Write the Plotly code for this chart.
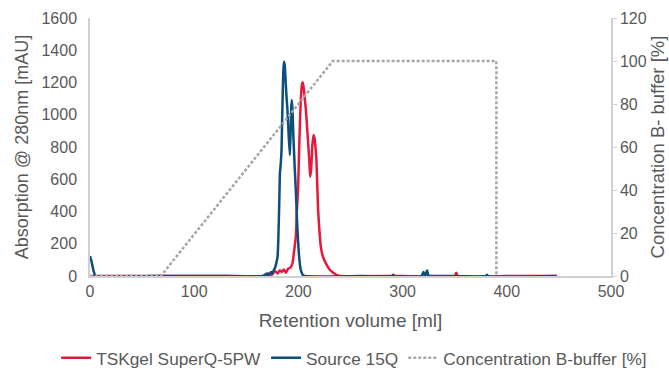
import plotly.graph_objects as go

# Chromatogram: absorption at 280 nm for two anion-exchange columns,
# plus the B-buffer gradient on a secondary axis.

tsk_ml = [0, 60, 120, 168, 170, 172, 174, 176, 178, 180, 182, 184, 186, 188, 190, 192,
          194.3, 195.8, 197.5, 198.5, 199.1, 199.8, 200.7, 201.5, 202.3, 203.1, 203.9, 204.8,
          206, 207.2, 208.8, 210.4, 211.3, 212.2, 213.4, 214.5, 215.6, 216.5, 217.3, 218.9,
          220.2, 221.5, 223.5, 226.3, 230, 233.8, 237, 240, 300, 350, 351.5,
          353, 400, 448]
tsk_mau = [0, 0, 0, 0, 5, 15, 5, 20, 30, 15, 35, 25, 40, 20, 45, 50,
           79, 150, 244, 400, 471, 560, 781, 950, 1090, 1170, 1201, 1180,
           1110, 1029, 880, 720, 616, 660, 810, 874, 850, 790, 720, 409,
           280, 182, 120, 80, 40, 18, 5, 0, 0, 0, 20,
           0, 0, 0]

src_ml = [0, 1.5, 3.5, 5.5, 60, 120, 166, 168, 170, 171.5, 173, 174, 175, 176.3, 177.5,
          178.8, 180, 180.8, 181.6, 182.3, 183.1, 183.8, 184.5, 185.2, 185.8, 186.3, 187,
          187.8, 188.7, 189.5, 190.6, 191.8, 192.6, 193.2, 193.7, 194.4, 195.3, 196.4, 197.5,
          198.8, 200.7, 202.2, 203.9, 206, 260, 290, 291, 292, 318, 320, 321.5, 323.5,
          325, 326.5, 340, 380, 381, 382, 448]
src_mau = [124, 90, 30, 0, 0, 0, 0, 8, 15, 5, 20, 25, 15, 35, 50,
           80, 120, 240, 450, 640, 700, 780, 1000, 1200, 1300, 1329, 1300,
           1200, 1100, 1029, 880, 750, 900, 1050, 1091, 1020, 850, 680, 533,
           330, 120, 40, 10, 0, 0, 0, 8, 0, 0, 25, 0, 35,
           0, 0, 0, 0, 8, 0, 0]

grad_ml = [0, 68, 233, 390, 390]
grad_pct = [0, 0, 100, 100, 0]

RED = "#E6183C"
BLUE = "#0B4F7C"
GREY = "#A6A6A6"
TEXT = "#595959"
AXIS = "#D0D0D0"
FONT = "Liberation Sans, Arial, sans-serif"

fig = go.Figure()
fig.add_trace(go.Scatter(x=tsk_ml, y=tsk_mau, name="TSKgel SuperQ-5PW", mode="lines",
                         line=dict(color=RED, width=2.5, shape="spline", smoothing=0.5)))
fig.add_trace(go.Scatter(x=src_ml, y=src_mau, name="Source 15Q", mode="lines",
                         line=dict(color=BLUE, width=2.5, shape="spline", smoothing=0.5)))
fig.add_trace(go.Scatter(x=grad_ml, y=grad_pct, name="Concentration B-buffer [%]", mode="lines",
                         yaxis="y2", line=dict(color=GREY, width=2.5, dash="3px,2px")))

fig.update_layout(
    width=669, height=372,
    margin=dict(l=90, r=58, t=18, b=96, autoexpand=False),
    paper_bgcolor="white", plot_bgcolor="white",
    font=dict(family=FONT, size=16, color=TEXT),
    showlegend=True,
    legend=dict(orientation="h", xref="paper", yref="paper",
                x=-0.065, xanchor="left", y=-0.318, yanchor="middle",
                font=dict(size=17.3, color=TEXT), itemwidth=30, tracegroupgap=0,
                bgcolor="rgba(0,0,0,0)"),
    xaxis=dict(range=[0, 500], dtick=100, showgrid=False, zeroline=False,
               showline=True, linecolor=AXIS, linewidth=1.5, ticks="",
               tickfont=dict(size=16, color=TEXT),
               title=dict(text="Retention volume [ml]", font=dict(size=19, color=TEXT), standoff=15)),
    yaxis=dict(range=[0, 1600], dtick=200, showgrid=False, zeroline=False,
               showline=True, linecolor=AXIS, linewidth=1.5, ticks="",
               ticklabelstandoff=8, tickfont=dict(size=16, color=TEXT),
               title=dict(text="Absorption @ 280nm [mAU]", font=dict(size=18, color=TEXT), standoff=8)),
    yaxis2=dict(range=[0, 120], dtick=20, overlaying="y", side="right", showgrid=False,
                zeroline=False, showline=True, linecolor=AXIS, linewidth=1.5,
                ticks="outside", ticklen=4, tickcolor=AXIS,
                tickfont=dict(size=16, color=TEXT),
                title=dict(text="Concentration B- buffer [%]", font=dict(size=18.5, color=TEXT), standoff=4)),
)

fig.write_html("out.html")
